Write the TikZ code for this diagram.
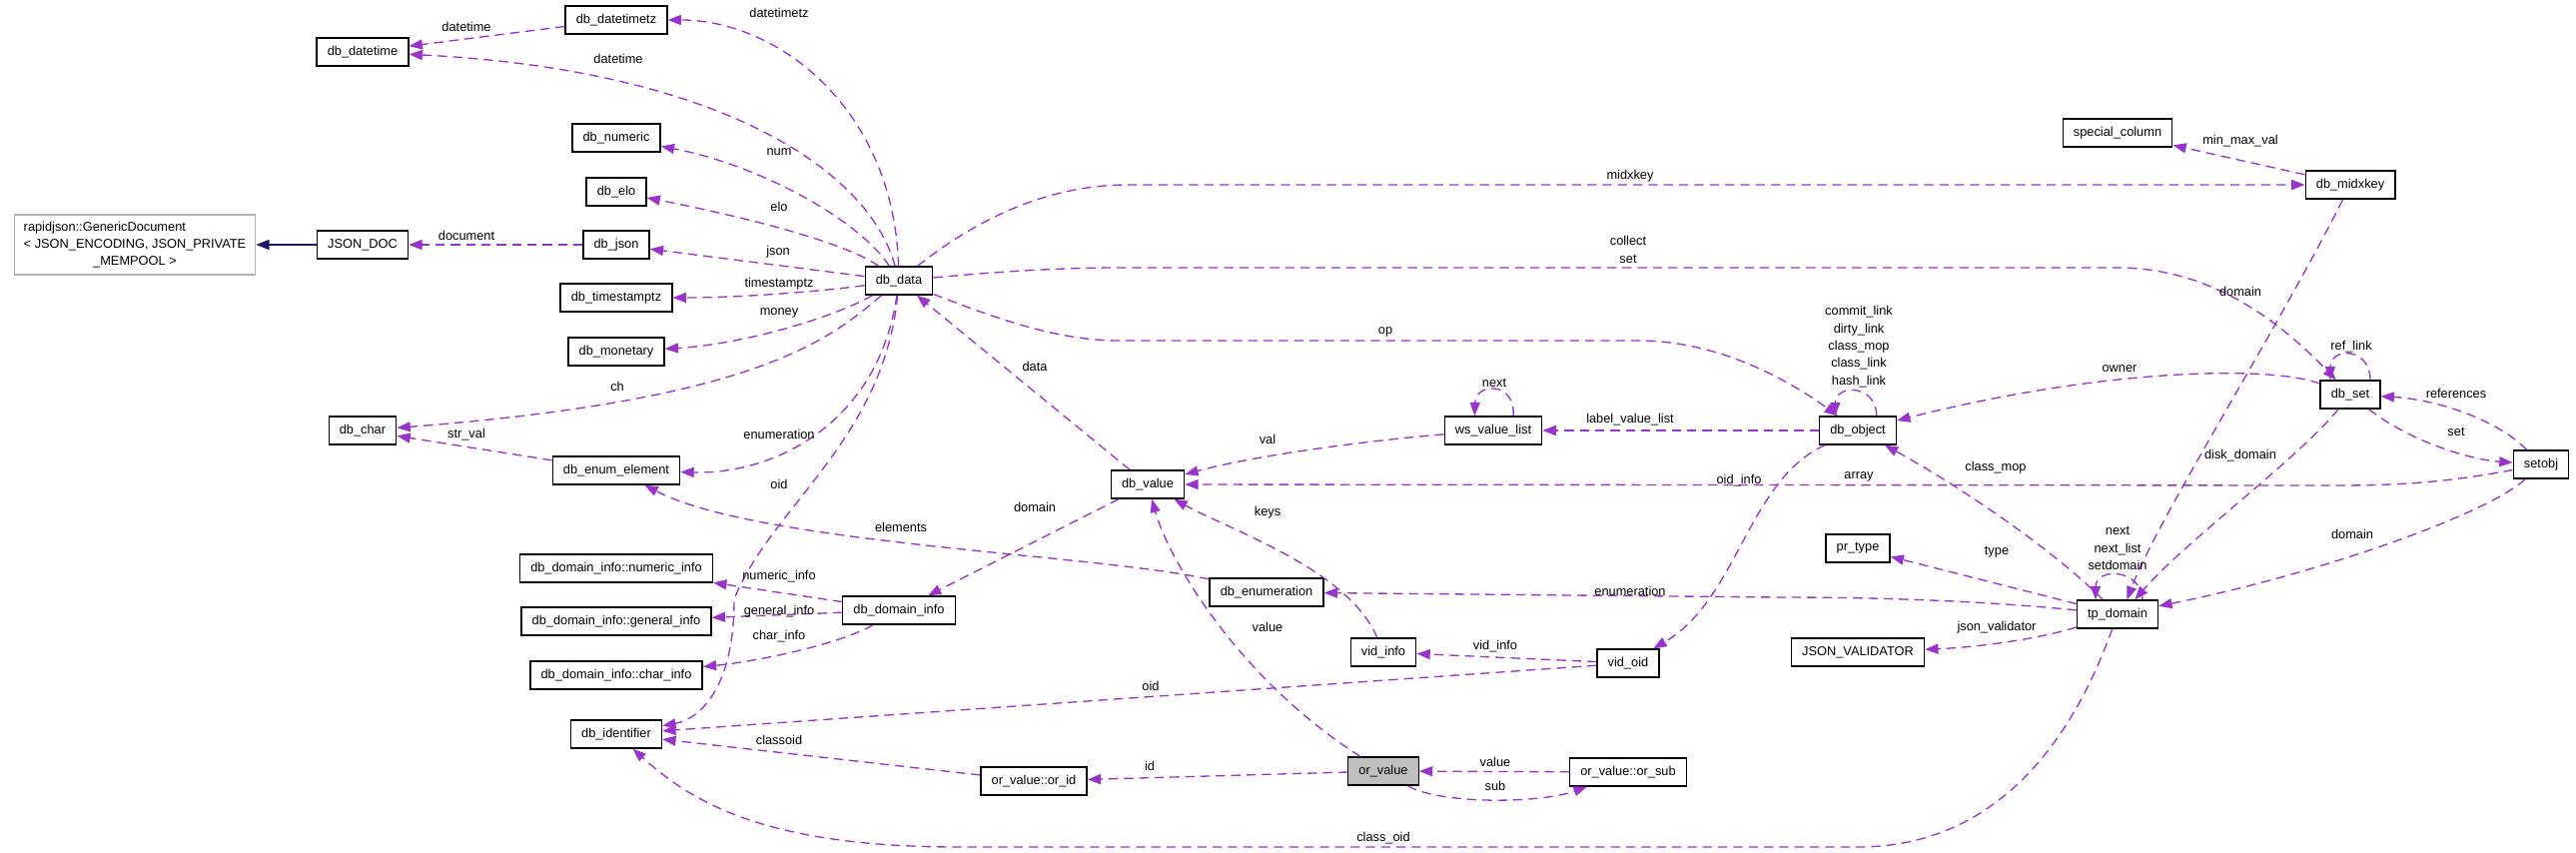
\documentclass[tikz,border=0pt]{standalone}
\usepackage{fontspec}
\setmainfont{Liberation Sans}
\usepackage{tikz}
\usetikzlibrary{arrows.meta}
\definecolor{lila}{RGB}{154,50,205}
\definecolor{ejkek}{RGB}{25,25,112}
\newcommand{\dfont}{\fontsize{9.6}{13}\selectfont}
\tikzset{
  osztaly/.style={draw=black,line width=1pt,fill=white,minimum height=21pt,inner xsep=8pt,inner ysep=0pt,
                  font=\dfont},
  kiemelt/.style={osztaly,fill=black!25},
  kulso/.style={draw=black!30,line width=1pt,fill=white,inner xsep=7pt,inner ysep=3pt,font=\dfont},
  hnyil/.style={draw=lila,line width=1pt,dash pattern=on 7pt off 4.5pt,
                -{Triangle[length=10pt,width=7.5pt,fill=lila]}},
  onyil/.style={draw=ejkek,line width=1.2pt,-{Triangle[length=10pt,width=7.5pt]}},
  cimke/.style={font=\dfont,inner sep=1pt,text=black},
}

\begin{document}
\begin{tikzpicture}[x=0.75pt,y=-0.75pt]
  \fill[white] (0,0) rectangle (2579,853);
  \useasboundingbox (0,0) rectangle (2579,853);
  \node[osztaly] (dtz) at (617,20) {db\_datetimetz};
  \node[osztaly] (dt) at (363,52) {db\_datetime};
  \node[osztaly] (num) at (617,138) {db\_numeric};
  \node[osztaly] (elo) at (617,192) {db\_elo};
  \node[osztaly] (json) at (617,245) {db\_json};
  \node[osztaly] (tstz) at (617,298) {db\_timestamptz};
  \node[osztaly] (mon) at (617,352) {db\_monetary};
  \node[osztaly] (jdoc) at (363,245) {JSON\_DOC};
  \node[kulso] (rjdoc) at (135,245) {\begin{tabular}{@{}l@{}}rapidjson::GenericDocument\\
    < JSON\_ENCODING, JSON\_PRIVATE\\\multicolumn{1}{@{}c@{}}{\_MEMPOOL >}\end{tabular}};
  \node[osztaly] (data) at (900,281) {db\_data};
  \node[osztaly] (chr) at (363,431) {db\_char};
  \node[osztaly] (enel) at (617,471) {db\_enum\_element};
  \node[osztaly] (numi) at (617,569) {db\_domain\_info::numeric\_info};
  \node[osztaly] (geni) at (617,622) {db\_domain\_info::general\_info};
  \node[osztaly] (chri) at (617,676) {db\_domain\_info::char\_info};
  \node[osztaly] (ident) at (617,735) {db\_identifier};
  \node[osztaly] (dinfo) at (900,611) {db\_domain\_info};
  \node[osztaly] (val) at (1149,485) {db\_value};
  \node[osztaly] (enm) at (1268,593) {db\_enumeration};
  \node[osztaly] (wsl) at (1495,431) {ws\_value\_list};
  \node[osztaly] (vinfo) at (1385,653) {vid\_info};
  \node[osztaly] (vidoid) at (1630,664) {vid\_oid};
  \node[kiemelt] (orv) at (1385,772) {or\_value};
  \node[osztaly] (orsub) at (1630,773) {or\_value::or\_sub};
  \node[osztaly] (orid) at (1035,782) {or\_value::or\_id};
  \node[osztaly] (spc) at (2120,133) {special\_column};
  \node[osztaly] (midx) at (2353,185) {db\_midxkey};
  \node[osztaly] (obj) at (1860,431) {db\_object};
  \node[osztaly] (dset) at (2353,395) {db\_set};
  \node[osztaly] (sobj) at (2544,465) {setobj};
  \node[osztaly] (prt) at (1860,549) {pr\_type};
  \node[osztaly] (tpd) at (2120,615) {tp\_domain};
  \node[osztaly] (jval) at (1860,653) {JSON\_VALIDATOR};

  \draw[onyil] (jdoc) -- (rjdoc);
  \draw[hnyil] (json) -- (jdoc) node[cimke,at={(467,236)}] {document};
  \draw[hnyil] (dtz) -- (dt) node[cimke,at={(467,27)}] {datetime};
  \draw[hnyil] (data) .. controls (895,110) and (780,20) .. (dtz) node[cimke,at={(780,13)}] {datetimetz};
  \draw[hnyil] (data) .. controls (870,170) and (720,70) .. (dt) node[cimke,at={(619,59)}] {datetime};
  \draw[hnyil] (data) .. controls (860,220) and (760,165) .. (num) node[cimke,at={(780,152)}] {num};
  \draw[hnyil] (data) .. controls (850,245) and (760,220) .. (elo) node[cimke,at={(780,207)}] {elo};
  \draw[hnyil] (data) -- (json) node[cimke,at={(779,252)}] {json};
  \draw[hnyil] (data) .. controls (820,292) and (740,298) .. (tstz) node[cimke,at={(780,284)}] {timestamptz};
  \draw[hnyil] (data) .. controls (830,320) and (740,345) .. (mon) node[cimke,at={(780,313)}] {money};
  \draw[hnyil] (data) .. controls (830,340) and (760,400) .. (chr) node[cimke,at={(618,387)}] {ch};
  \draw[hnyil] (enel) -- (chr) node[cimke,at={(467,435)}] {str\_val};
  \draw[hnyil] (data) .. controls (880,420) and (780,475) .. (enel) node[cimke,at={(780,435)}] {enumeration};
  \draw[hnyil] (data) .. controls (885,440) and (770,510) .. (735,600) .. controls (735,690) and (700,720) .. (ident)
    node[cimke,at={(780,485)}] {oid};
  \draw[hnyil] (val) -- (data) node[cimke,at={(1036,367)}] {data};
  \draw[hnyil] (val) -- (dinfo) node[cimke,at={(1036,508)}] {domain};
  \draw[hnyil] (dinfo) -- (numi) node[cimke,at={(780,577)}] {numeric\_info};
  \draw[hnyil] (dinfo) -- (geni) node[cimke,at={(780,612)}] {general\_info};
  \draw[hnyil] (dinfo) .. controls (840,645) and (760,662) .. (chri) node[cimke,at={(780,637)}] {char\_info};
  \draw[hnyil] (enm) .. controls (1100,555) and (760,545) .. (enel) node[cimke,at={(902,528)}] {elements};
  \draw[hnyil] (vidoid) -- (ident) node[cimke,at={(1152,687)}] {oid};
  \draw[hnyil] (orid) -- (ident) node[cimke,at={(780,741)}] {classoid};
  \draw[hnyil] (orv) -- (orid) node[cimke,at={(1151,767)}] {id};
  \draw[hnyil] (orv) .. controls (1240,680) and (1170,560) .. (val) node[cimke,at={(1269,628)}] {value};
  \draw[hnyil] (vinfo) .. controls (1350,570) and (1230,530) .. (val) node[cimke,at={(1269,513)}] {keys};
  \draw[hnyil] (vidoid) -- (vinfo) node[cimke,at={(1497,647)}] {vid\_info};
  \draw[hnyil] (wsl) .. controls (1380,440) and (1260,455) .. (val) node[cimke,at={(1269,440)}] {val};
  \draw[hnyil] ([xshift=15pt]wsl.north) .. controls +(3,-34) and +(1,-34) .. ([xshift=-14pt]wsl.north)
    node[cimke,at={(1496,383)}] {next};
  \draw[hnyil] (obj) -- (wsl) node[cimke,at={(1632,420)}] {label\_value\_list};
  \draw[hnyil] (sobj) .. controls (2450,483) and (2400,486) .. (2340,486) -- (val) node[cimke,at={(1861,477)}] {array};
  \draw[hnyil] (obj) .. controls (1750,480) and (1740,600) .. (vidoid) node[cimke,at={(1741,481)}] {oid\_info};
  \draw[hnyil] (data) .. controls (1000,320) and (1060,341) .. (1120,341) -- (1640,341)
    .. controls (1720,341) and (1790,380) .. (obj) node[cimke,at={(1387,332)}] {op};
  \draw[hnyil] (data) .. controls (1000,272) and (1060,268) .. (1120,268) -- (2120,268)
    .. controls (2220,268) and (2290,330) .. (dset) node[cimke,align=center,at={(1630,250)}] {collect\\set};
  \draw[hnyil] (data) .. controls (990,210) and (1060,185) .. (1130,185) -- (midx) node[cimke,at={(1632,176)}] {midxkey};
  \draw[hnyil] (midx) -- (spc) node[cimke,at={(2243,141)}] {min\_max\_val};
  \draw[hnyil] (midx) .. controls (2280,330) and (2160,520) .. ([xshift=7pt]tpd.north) node[cimke,at={(2243,292)}] {domain};
  \draw[hnyil] ([xshift=18.75pt]tpd.north) .. controls +(-2,-32) and +(0,-32) .. ([xshift=-16.5pt]tpd.north)
    node[cimke,align=center,at={(2120,549)}] {next\\next\_list\\setdomain};
  \draw[hnyil] ([xshift=14pt]obj.north) .. controls +(0,-32) and +(0,-32) .. ([xshift=-17pt]obj.north)
    node[cimke,align=center,at={(1861,347)}] {commit\_link\\dirty\_link\\class\_mop\\class\_link\\hash\_link};
  \draw[hnyil] ([xshift=15pt]dset.north) .. controls +(0,-33) and +(0,-33) .. ([xshift=-15pt]dset.north)
    node[cimke,at={(2354,347)}] {ref\_link};
  \draw[hnyil] (dset) .. controls (2270,365) and (2100,370) .. (obj) node[cimke,at={(2122,369)}] {owner};
  \draw[hnyil] (dset) .. controls (2300,460) and (2190,540) .. ([xshift=13pt]tpd.north) node[cimke,at={(2243,456)}] {disk\_domain};
  \draw[hnyil] (sobj) .. controls (2490,515) and (2320,575) .. (tpd) node[cimke,at={(2355,535)}] {domain};
  \draw[hnyil] (dset) .. controls (2410,440) and (2470,460) .. (sobj) node[cimke,at={(2459,432)}] {set};
  \draw[hnyil] (sobj) .. controls (2500,420) and (2440,400) .. (dset) node[cimke,at={(2459,394)}] {references};
  \draw[hnyil] (tpd) .. controls (2050,545) and (1950,480) .. (obj) node[cimke,at={(1998,468)}] {class\_mop};
  \draw[hnyil] (tpd) -- (prt) node[cimke,at={(1999,553)}] {type};
  \draw[hnyil] (tpd) .. controls (2040,640) and (1980,648) .. (jval) node[cimke,at={(1999,628)}] {json\_validator};
  \draw[hnyil] (tpd) .. controls (2000,603) and (1900,598) .. (1780,598) -- (enm) node[cimke,at={(1632,592)}] {enumeration};
  \draw[hnyil] (tpd) .. controls (2075,740) and (2000,848) .. (1860,848) -- (960,848)
    .. controls (760,848) and (690,800) .. (ident) node[cimke,at={(1385,839)}] {class\_oid};
  \draw[hnyil] (orsub) -- (orv) node[cimke,at={(1497,763)}] {value};
  \draw[hnyil] (orv) .. controls (1440,805) and (1540,805) .. (orsub) node[cimke,at={(1497,787)}] {sub};
\end{tikzpicture}
\end{document}
